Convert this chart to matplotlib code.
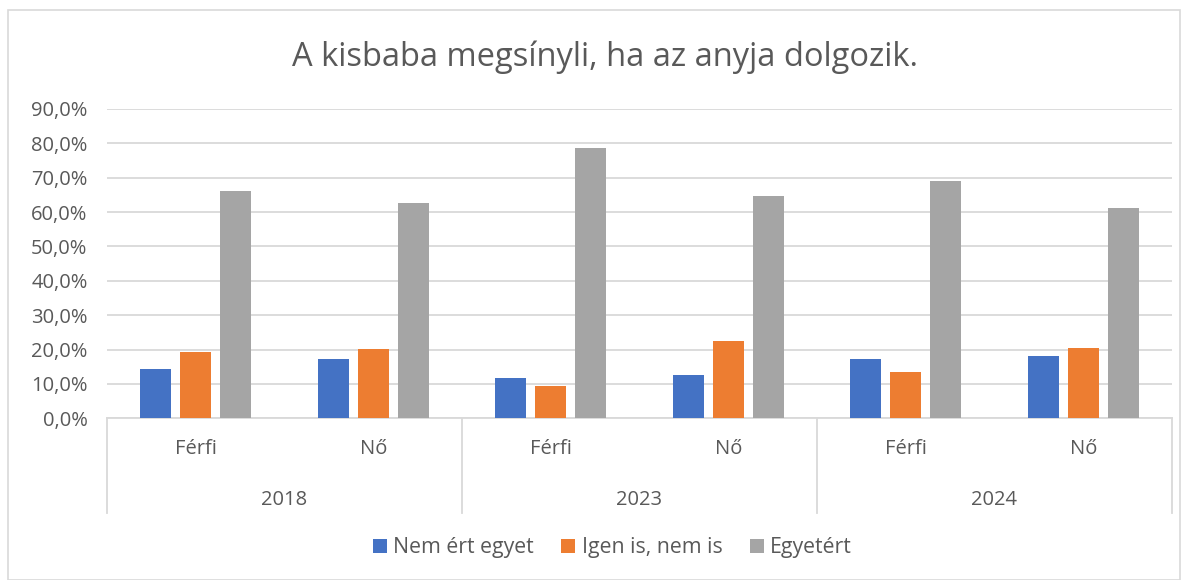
import matplotlib.pyplot as plt
import numpy as np
from matplotlib.patches import Rectangle
from matplotlib.ticker import FuncFormatter

plt.rcParams['font.family'] = ['Open Sans', 'DejaVu Sans']

years = ['2018', '2023', '2024']
genders = ['Férfi', 'Nő']
series_names = ['Nem ért egyet', 'Igen is, nem is', 'Egyetért']
colors = ['#4472C4', '#ED7D31', '#A5A5A5']

# order: 2018 Férfi, 2018 Nő, 2023 Férfi, 2023 Nő, 2024 Férfi, 2024 Nő
nem_ert_egyet = [14.2, 17.2, 11.7, 12.5, 17.2, 18.2]
igen_is_nem_is = [19.4, 20.1, 9.4, 22.4, 13.4, 20.4]
egyetert = [66.1, 62.5, 78.5, 64.8, 69.1, 61.2]
values = [nem_ert_egyet, igen_is_nem_is, egyetert]

text_color = '#595959'
grid_color = '#D9D9D9'

fig = plt.figure(figsize=(11.89, 5.8), dpi=100)
ax = fig.add_axes([0.0900, 0.2788, 0.8957, 0.5334])

x = np.arange(len(egyetert)) + 0.5
width = 0.175
step = 0.225
for i, (name, vals, c) in enumerate(zip(series_names, values, colors)):
    ax.bar(x + (i - 1) * step, vals, width, color=c, label=name, zorder=3)

ax.set_xlim(0, 6)
ax.set_ylim(0, 90)
ax.set_yticks(np.arange(0, 91, 10))
ax.yaxis.set_major_formatter(FuncFormatter(lambda v, p: f'{v:.1f}%'.replace('.', ',')))
ax.tick_params(axis='y', length=0, pad=14, labelsize=14.5, labelcolor=text_color)
ax.set_xticks([])
ax.grid(axis='y', color=grid_color, lw=1.3, zorder=0)
for s in ['top', 'right', 'left']:
    ax.spines[s].set_visible(False)
ax.spines['bottom'].set_color(grid_color)
ax.spines['bottom'].set_linewidth(1.3)

# hierarchical category labels
trans = ax.get_xaxis_transform()
for j, xc in enumerate(x):
    ax.text(xc, -0.1, genders[j % 2], transform=trans, ha='center', va='center',
            fontsize=14.5, color=text_color)
for k, yr in enumerate(years):
    ax.text(2 * k + 1, -0.265, yr, transform=trans, ha='center', va='center',
            fontsize=14.5, color=text_color)
for xs in [0, 2, 4, 6]:
    ax.plot([xs, xs], [0, -0.305], transform=trans, color=grid_color, lw=1.3, clip_on=False)

fig.text(0.5 + 10 / 1189, 1 - 57 / 580, 'A kisbaba megsínyli, ha az anyja dolgozik.', ha='center', va='center',
         fontsize=23.5, color=text_color)

handles, labels = ax.get_legend_handles_labels()
fig.legend(handles, labels, loc='center', bbox_to_anchor=(0.5 + 18 / 1189, 1 - 548 / 580), ncol=3, frameon=False,
           fontsize=15.3, labelcolor=text_color, handlelength=0.65, handleheight=0.65,
           handletextpad=0.3, columnspacing=1.3)

fig.patches.append(Rectangle((8 / 1189, 0), 1172 / 1189, 570 / 580, transform=fig.transFigure,
                             fill=False, edgecolor=grid_color, lw=1.2))

fig.savefig('out.png', dpi=100)
